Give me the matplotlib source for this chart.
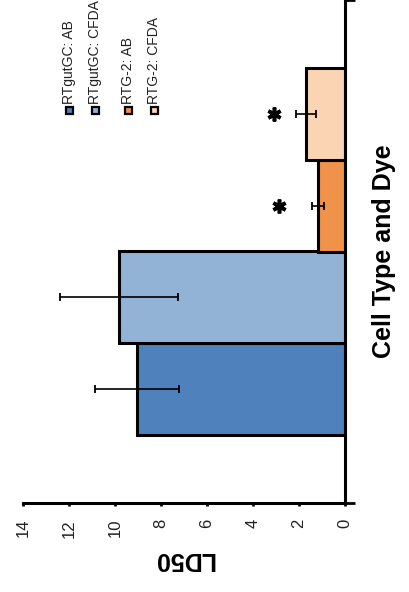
import matplotlib
matplotlib.use("Agg")
import matplotlib.pyplot as plt
from matplotlib.patches import Rectangle
import numpy as np

# Data
groups = ["RTgutGC: AB", "RTgutGC: CFDA", "RTG-2: AB", "RTG-2: CFDA"]
ld50 = [9.05, 9.83, 1.18, 1.70]
ld50_err = [1.83, 2.55, 0.26, 0.44]
star_at = [None, None, 2.85, 3.10]   # where the significance asterisk sits
colors = ["#4f81bd", "#93b3d6", "#f0924a", "#fbd4b4"]
value_ticks = [0, 2, 4, 6, 8, 10, 12, 14]

plt.rcParams['font.family'] = ['Liberation Sans', 'DejaVu Sans']

W, H = 409, 592
fig = plt.figure(figsize=(W / 100, H / 100), dpi=100)
ax = fig.add_axes([23 / W, 89 / H, 322 / W, 503 / H])

pos = np.arange(len(groups))
ax.barh(pos, ld50, height=1.0, color=colors, edgecolor='black',
        linewidth=2.2, zorder=2)
ax.errorbar(ld50, pos, xerr=ld50_err, fmt='none', ecolor='black',
            elinewidth=1.2, capsize=3, capthick=1.3, zorder=3)

# significance markers
for p, s in zip(pos, star_at):
    if s is not None:
        ax.plot(s, p, marker=(6, 2, 0), ms=10, mew=2.6,
                color='black', zorder=4)

ax.set_xlim(14, 0)
ax.set_ylim(-1.24, 4.24)

for side in ('left', 'top'):
    ax.spines[side].set_visible(False)
for side in ('bottom', 'right'):
    ax.spines[side].set_linewidth(2.2)

ax.set_xticks(value_ticks)
ax.set_xticklabels([str(t) for t in value_ticks], rotation=90,
                   fontsize=12, color='#222222')
ax.tick_params(axis='x', direction='out', length=2.5, width=2, pad=9)

ax.yaxis.tick_right()
ax.set_yticks([-1.24, 4.24])
ax.set_yticklabels(['', ''])
ax.tick_params(axis='y', direction='out', length=7, width=2)

ax.set_xlabel('LD50', rotation=180, fontsize=18, fontweight='bold',
              labelpad=7)
ax.yaxis.set_label_position('right')
ax.set_ylabel('Cell Type and Dye', rotation=90, fontsize=18,
              fontweight='bold', labelpad=9)

# legend, laid out sideways
legend_x = [69, 95, 128, 154]
for x, label, c in zip(legend_x, groups, colors):
    fig.patches.append(Rectangle(((x - 3.5) / W, 1 - 113.5 / H), 7 / W, 7 / H,
                                 transform=fig.transFigure, facecolor=c,
                                 edgecolor='black', linewidth=1.6))
    fig.text(x / W, 1 - 104 / H, label, rotation=90, ha='center',
             va='bottom', fontsize=10, color='#222222')

fig.savefig('out.png', dpi=100)
